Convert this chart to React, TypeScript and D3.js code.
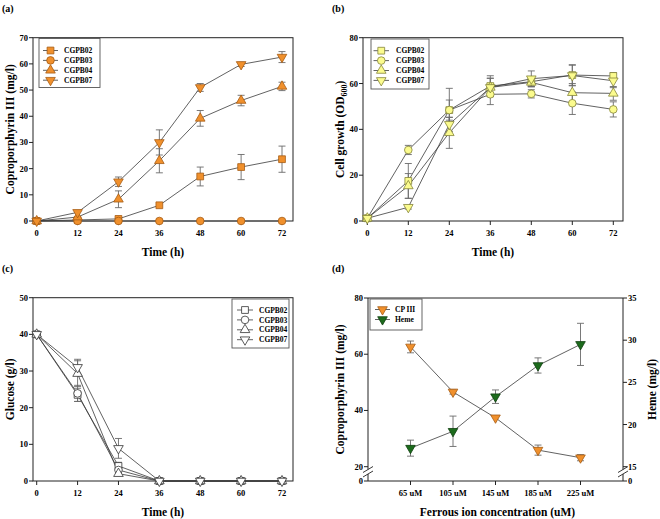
import React from "react";
import * as d3 from "d3";

// ---------- data ----------
const time = [0, 12, 24, 36, 48, 60, 72];
const strains = ["CGPB02", "CGPB03", "CGPB04", "CGPB07"];

// (a) Coproporphyrin III (mg/l)
const cp3_02 = [0, 0.4, 0.8, 6.0, 17.0, 20.6, 23.6];
const cp3_02e = [0, 0, 0.3, 0.6, 3.6, 4.8, 5.0];
const cp3_03 = [0, 0, 0, 0, 0, 0, 0];
const cp3_03e = [0, 0, 0, 0, 0, 0, 0];
const cp3_04 = [0, 1.5, 8.3, 23.0, 39.2, 46.0, 51.4];
const cp3_04e = [0, 0.3, 3.2, 4.6, 3.0, 2.0, 1.6];
const cp3_07 = [0, 3.3, 15.0, 30.0, 51.0, 59.8, 62.6];
const cp3_07e = [0, 0.3, 1.8, 4.8, 1.5, 0.8, 2.1];

// (b) Cell growth (OD600)
const od_02 = [1.2, 17.5, 48.4, 58.9, 60.8, 63.7, 63.3];
const od_02e = [0.3, 7.6, 9.5, 4.5, 2.0, 4.5, 1.5];
const od_03 = [1.2, 31.0, 48.4, 55.3, 55.5, 51.4, 48.7];
const od_03e = [0.3, 2.0, 4.4, 4.5, 1.8, 4.9, 3.3];
const od_04 = [1.2, 15.3, 38.5, 58.3, 60.5, 56.0, 55.7];
const od_04e = [0.3, 5.4, 6.8, 4.0, 2.0, 4.0, 3.0];
const od_07 = [1.2, 6.0, 42.2, 58.3, 62.1, 63.5, 61.2];
const od_07e = [0.3, 0.8, 3.0, 4.0, 3.4, 4.5, 3.0];

// (c) Glucose (g/l)
const glc_02 = [40, 23.5, 4.1, 0, 0, 0, 0];
const glc_02e = [0.3, 1.8, 1.0, 0, 0, 0, 0];
const glc_03 = [40, 23.9, 3.0, 0, 0, 0, 0];
const glc_03e = [0.3, 2.2, 0.8, 0, 0, 0, 0];
const glc_04 = [40, 29.3, 2.0, 0, 0, 0, 0];
const glc_04e = [0.3, 3.5, 0.5, 0, 0, 0, 0];
const glc_07 = [40, 31.0, 8.9, 0, 0, 0, 0];
const glc_07e = [0.3, 2.2, 2.7, 0, 0, 0, 0];

// (d) Ferrous ion concentration
const conc = ["65 uM", "105 uM", "145 uM", "185 uM", "225 uM"];
const cpIII = [62.6, 46.6, 37.4, 25.9, 23.2];
const cpIIIe = [2.1, 0.8, 0.5, 1.8, 1.1];
const heme = [17.2, 19.2, 23.3, 27.0, 29.5];
const hemee = [0.95, 1.8, 0.8, 0.9, 2.5];

const ticksA = [0, 10, 20, 30, 40, 50, 60, 70];
const ticksB = [0, 20, 40, 60, 80];
const ticksC = [0, 10, 20, 30, 40, 50];
const ticksDL = [20, 40, 60, 80];
const ticksDR = [15, 20, 25, 30, 35];

// ---------- style ----------
const FONT = "'Liberation Serif','Times New Roman',serif";
const LINE = "#3a3a3a";
const ERR = "#6a6a6a";
const ORANGE = "#f0902c";
const ORANGE_S = "#a65c14";
const YELLOW = "#fbfb8e";
const YELLOW_S = "#85853a";
const GREEN = "#1c6b1c";
const GREEN_S = "#0f3f0f";

type Sym = "square" | "circle" | "tri" | "itri";
const symbols: Sym[] = ["square", "circle", "tri", "itri"];

function symPath(s: Sym) {
  const t =
    s === "square" ? d3.symbolSquare : s === "circle" ? d3.symbolCircle : d3.symbolTriangle;
  const size = s === "square" ? 46 : s === "circle" ? 46 : 40;
  return d3.symbol().type(t).size(size)() as string;
}

function Marker({ x, y, s, fill, stroke }: { x: number; y: number; s: Sym; fill: string; stroke: string }) {
  const rot = s === "itri" ? 180 : 0;
  return (
    <path
      d={symPath(s)}
      transform={`translate(${x},${y}) rotate(${rot})`}
      fill={fill}
      stroke={stroke}
      strokeWidth={0.8}
    />
  );
}

type Series = { name: string; vals: number[]; errs: number[]; sym: Sym; fill: string; stroke: string };

function SeriesMarks({
  xs,
  series,
  ys,
}: {
  xs: number[];
  series: Series[];
  ys: (v: number) => number;
}) {
  const line = d3
    .line<number>()
    .x((_, i) => xs[i])
    .y((v) => ys(v));
  return (
    <g>
      {series.map((s) => (
        <path key={s.name + "l"} d={line(s.vals) as string} fill="none" stroke={LINE} strokeWidth={0.8} />
      ))}
      {series.map((s) => (
        <g key={s.name + "e"}>
          {s.vals.map((v, i) =>
            s.errs[i] > 0.6 ? (
              <g key={i} stroke={ERR} strokeWidth={0.9}>
                <line x1={xs[i]} x2={xs[i]} y1={ys(v - s.errs[i])} y2={ys(v + s.errs[i])} />
                <line x1={xs[i] - 3.5} x2={xs[i] + 3.5} y1={ys(v - s.errs[i])} y2={ys(v - s.errs[i])} />
                <line x1={xs[i] - 3.5} x2={xs[i] + 3.5} y1={ys(v + s.errs[i])} y2={ys(v + s.errs[i])} />
              </g>
            ) : null
          )}
        </g>
      ))}
      {series.map((s) => (
        <g key={s.name + "m"}>
          {s.vals.map((v, i) => (
            <Marker key={i} x={xs[i]} y={ys(v)} s={s.sym} fill={s.fill} stroke={s.stroke} />
          ))}
        </g>
      ))}
    </g>
  );
}

function Legend({
  x,
  y,
  w,
  h,
  series,
  rowY,
  step,
  lx0,
  lx1,
  tx,
}: {
  x: number;
  y: number;
  w: number;
  h: number;
  series: Series[];
  rowY: number;
  step: number;
  lx0: number;
  lx1: number;
  tx: number;
}) {
  return (
    <g>
      <rect x={x} y={y} width={w} height={h} fill="white" stroke="#555" strokeWidth={0.9} />
      {series.map((s, i) => {
        const yy = rowY + i * step;
        return (
          <g key={s.name}>
            <line x1={lx0} x2={lx1} y1={yy} y2={yy} stroke={LINE} strokeWidth={0.8} />
            <Marker x={(lx0 + lx1) / 2} y={yy} s={s.sym} fill={s.fill} stroke={s.stroke} />
            <text x={tx} y={yy} dy="0.35em" fontSize={7.5} fontWeight="bold" fontFamily={FONT}>
              {s.name}
            </text>
          </g>
        );
      })}
    </g>
  );
}

type Frame = { l: number; r: number; t: number; b: number };

function TimePanel({
  frame,
  xr,
  ymax,
  yticks,
  series,
  ytitle,
  label,
  legend,
}: {
  frame: Frame;
  xr: [number, number];
  ymax: number;
  yticks: number[];
  series: Series[];
  ytitle: React.ReactNode;
  label: string;
  legend: { x: number; y: number; w: number; h: number; rowY: number; step: number; lx0: number; lx1: number; tx: number };
}) {
  const x = d3.scaleLinear().domain([0, 72]).range(xr);
  const y = d3.scaleLinear().domain([0, ymax]).range([frame.b, frame.t]);
  const xs = time.map((t) => x(t));
  const ycx = (frame.t + frame.b) / 2;
  return (
    <g>
      <text x={frame.l - 31} y={frame.t - 26} fontSize={10} fontWeight="bold" fontFamily={FONT}>
        {label}
      </text>
      <rect x={frame.l} y={frame.t} width={frame.r - frame.l} height={frame.b - frame.t} fill="none" stroke="#222" strokeWidth={1} />
      {time.map((t) => (
        <g key={t}>
          <line x1={x(t)} x2={x(t)} y1={frame.b} y2={frame.b + 4} stroke="#222" />
          <text x={x(t)} y={frame.b + 15} textAnchor="middle" fontSize={8.5} fontWeight="bold" fontFamily={FONT}>
            {t}
          </text>
        </g>
      ))}
      {yticks.map((v) => (
        <g key={v}>
          <line x1={frame.l - 4} x2={frame.l} y1={y(v)} y2={y(v)} stroke="#222" />
          <text x={frame.l - 5} y={y(v)} dy="0.35em" textAnchor="end" fontSize={8.5} fontWeight="bold" fontFamily={FONT}>
            {v}
          </text>
        </g>
      ))}
      <text x={(frame.l + frame.r) / 2} y={frame.b + 35} textAnchor="middle" fontSize={11.5} fontWeight="bold" fontFamily={FONT}>
        Time (h)
      </text>
      <text
        transform={`translate(${frame.l - 19},${ycx}) rotate(-90)`}
        textAnchor="middle"
        fontSize={11.5}
        fontWeight="bold"
        fontFamily={FONT}
      >
        {ytitle}
      </text>
      <SeriesMarks xs={xs} series={series} ys={y} />
      <Legend {...legend} series={series} />
    </g>
  );
}

function mk(vals: number[][], errs: number[][], fill: string, stroke: string): Series[] {
  return strains.map((n, i) => ({ name: n, vals: vals[i], errs: errs[i], sym: symbols[i], fill, stroke }));
}

function PanelD() {
  const frame: Frame = { l: 368, r: 623, t: 298, b: 481 };
  const x = d3.scalePoint<string>().domain(conc).range([frame.l, frame.r]).padding(1);
  const yl = d3.scaleLinear().domain([20, 80]).range([466.7, frame.t]);
  const yr = d3.scaleLinear().domain([15, 35]).range([466.7, frame.t]);
  const xs = conc.map((c) => x(c) as number);
  const cpSeries: Series[] = [{ name: "CP III", vals: cpIII, errs: cpIIIe, sym: "itri", fill: ORANGE, stroke: ORANGE_S }];
  const hmSeries: Series[] = [{ name: "Heme", vals: heme, errs: hemee, sym: "itri", fill: GREEN, stroke: GREEN_S }];
  const brk = (ax: number) => (
    <g>
      <line x1={ax} x2={ax} y1={frame.t} y2={469.5} stroke="#222" />
      <line x1={ax} x2={ax} y1={474} y2={frame.b} stroke="#222" />
      <line x1={ax - 5} x2={ax + 5} y1={472.5} y2={466.5} stroke="#222" strokeWidth={0.9} />
      <line x1={ax - 5} x2={ax + 5} y1={477} y2={471} stroke="#222" strokeWidth={0.9} />
    </g>
  );
  const ycx = (frame.t + frame.b) / 2;
  return (
    <g>
      <text x={332} y={272} fontSize={10} fontWeight="bold" fontFamily={FONT}>
        (d)
      </text>
      <line x1={frame.l} x2={frame.r} y1={frame.t} y2={frame.t} stroke="#222" />
      <line x1={frame.l} x2={frame.r} y1={frame.b} y2={frame.b} stroke="#222" />
      {brk(frame.l)}
      {brk(frame.r)}
      {conc.map((c) => (
        <g key={c}>
          <line x1={x(c)} x2={x(c)} y1={frame.b} y2={frame.b + 4} stroke="#222" />
          <text x={x(c)} y={frame.b + 15} textAnchor="middle" fontSize={8.5} fontWeight="bold" fontFamily={FONT}>
            {c}
          </text>
        </g>
      ))}
      {ticksDL.map((v) => (
        <g key={v}>
          <line x1={frame.l - 4} x2={frame.l} y1={yl(v)} y2={yl(v)} stroke="#222" />
          <text x={frame.l - 5} y={yl(v)} dy="0.35em" textAnchor="end" fontSize={8.5} fontWeight="bold" fontFamily={FONT}>
            {v}
          </text>
        </g>
      ))}
      <line x1={frame.l - 4} x2={frame.l} y1={frame.b} y2={frame.b} stroke="#222" />
      <text x={frame.l - 5} y={frame.b} dy="0.35em" textAnchor="end" fontSize={8.5} fontWeight="bold" fontFamily={FONT}>
        0
      </text>
      {ticksDR.map((v) => (
        <g key={v}>
          <line x1={frame.r} x2={frame.r + 4} y1={yr(v)} y2={yr(v)} stroke="#222" />
          <text x={frame.r + 5} y={yr(v)} dy="0.35em" textAnchor="start" fontSize={8.5} fontWeight="bold" fontFamily={FONT}>
            {v}
          </text>
        </g>
      ))}
      <line x1={frame.r} x2={frame.r + 4} y1={frame.b} y2={frame.b} stroke="#222" />
      <text x={frame.r + 5} y={frame.b} dy="0.35em" textAnchor="start" fontSize={8.5} fontWeight="bold" fontFamily={FONT}>
        0
      </text>
      <text x={(frame.l + frame.r) / 2 + 2} y={frame.b + 35} textAnchor="middle" fontSize={11.5} fontWeight="bold" fontFamily={FONT}>
        Ferrous ion concentration (uM)
      </text>
      <text transform={`translate(${frame.l - 24},${ycx}) rotate(-90)`} textAnchor="middle" fontSize={11.5} fontWeight="bold" fontFamily={FONT}>
        Coproporphyrin III (mg/l)
      </text>
      <text transform={`translate(656,${ycx}) rotate(-90)`} textAnchor="middle" fontSize={11.5} fontWeight="bold" fontFamily={FONT}>
        Heme (mg/l)
      </text>
      <SeriesMarks xs={xs} series={cpSeries} ys={yl} />
      <SeriesMarks xs={xs} series={hmSeries} ys={yr} />
      <Legend
        x={370}
        y={299}
        w={52}
        h={31}
        series={[...cpSeries, ...hmSeries]}
        rowY={309.5}
        step={10}
        lx0={375}
        lx1={390}
        tx={395}
      />
    </g>
  );
}

export default function App() {
  const sA = mk([cp3_02, cp3_03, cp3_04, cp3_07], [cp3_02e, cp3_03e, cp3_04e, cp3_07e], ORANGE, ORANGE_S);
  const sB = mk([od_02, od_03, od_04, od_07], [od_02e, od_03e, od_04e, od_07e], YELLOW, YELLOW_S);
  const sC = mk([glc_02, glc_03, glc_04, glc_07], [glc_02e, glc_03e, glc_04e, glc_07e], "white", "#333");
  return (
    <svg
      width={660}
      height={519}
      style={{ position: "absolute", left: 0, top: 0, background: "white" }}
      fontFamily={FONT}
    >
      <TimePanel
        frame={{ l: 33, r: 293, t: 37.7, b: 221 }}
        xr={[36.7, 282]}
        ymax={70}
        yticks={ticksA}
        series={sA}
        ytitle="Coproporphyrin III (mg/l)"
        label="(a)"
        legend={{ x: 39, y: 38.5, w: 61, h: 49, rowY: 50.5, step: 9.9, lx0: 43, lx1: 58, tx: 64 }}
      />
      <TimePanel
        frame={{ l: 363, r: 623, t: 37.7, b: 221 }}
        xr={[367.3, 613.3]}
        ymax={80}
        yticks={ticksB}
        series={sB}
        ytitle={
          <>
            Cell growth (OD
            <tspan fontSize={8} dy={3}>
              600
            </tspan>
            <tspan dy={-3}>)</tspan>
          </>
        }
        label="(b)"
        legend={{ x: 371, y: 39, w: 58, h: 50, rowY: 50.7, step: 9.9, lx0: 373.5, lx1: 389, tx: 396 }}
      />
      <TimePanel
        frame={{ l: 33, r: 293, t: 297.7, b: 481 }}
        xr={[36.7, 282]}
        ymax={50}
        yticks={ticksC}
        series={sC}
        ytitle="Glucose (g/l)"
        label="(c)"
        legend={{ x: 232, y: 299, w: 57, h: 49, rowY: 310, step: 9.9, lx0: 237, lx1: 253, tx: 259 }}
      />
      <PanelD />
    </svg>
  );
}
